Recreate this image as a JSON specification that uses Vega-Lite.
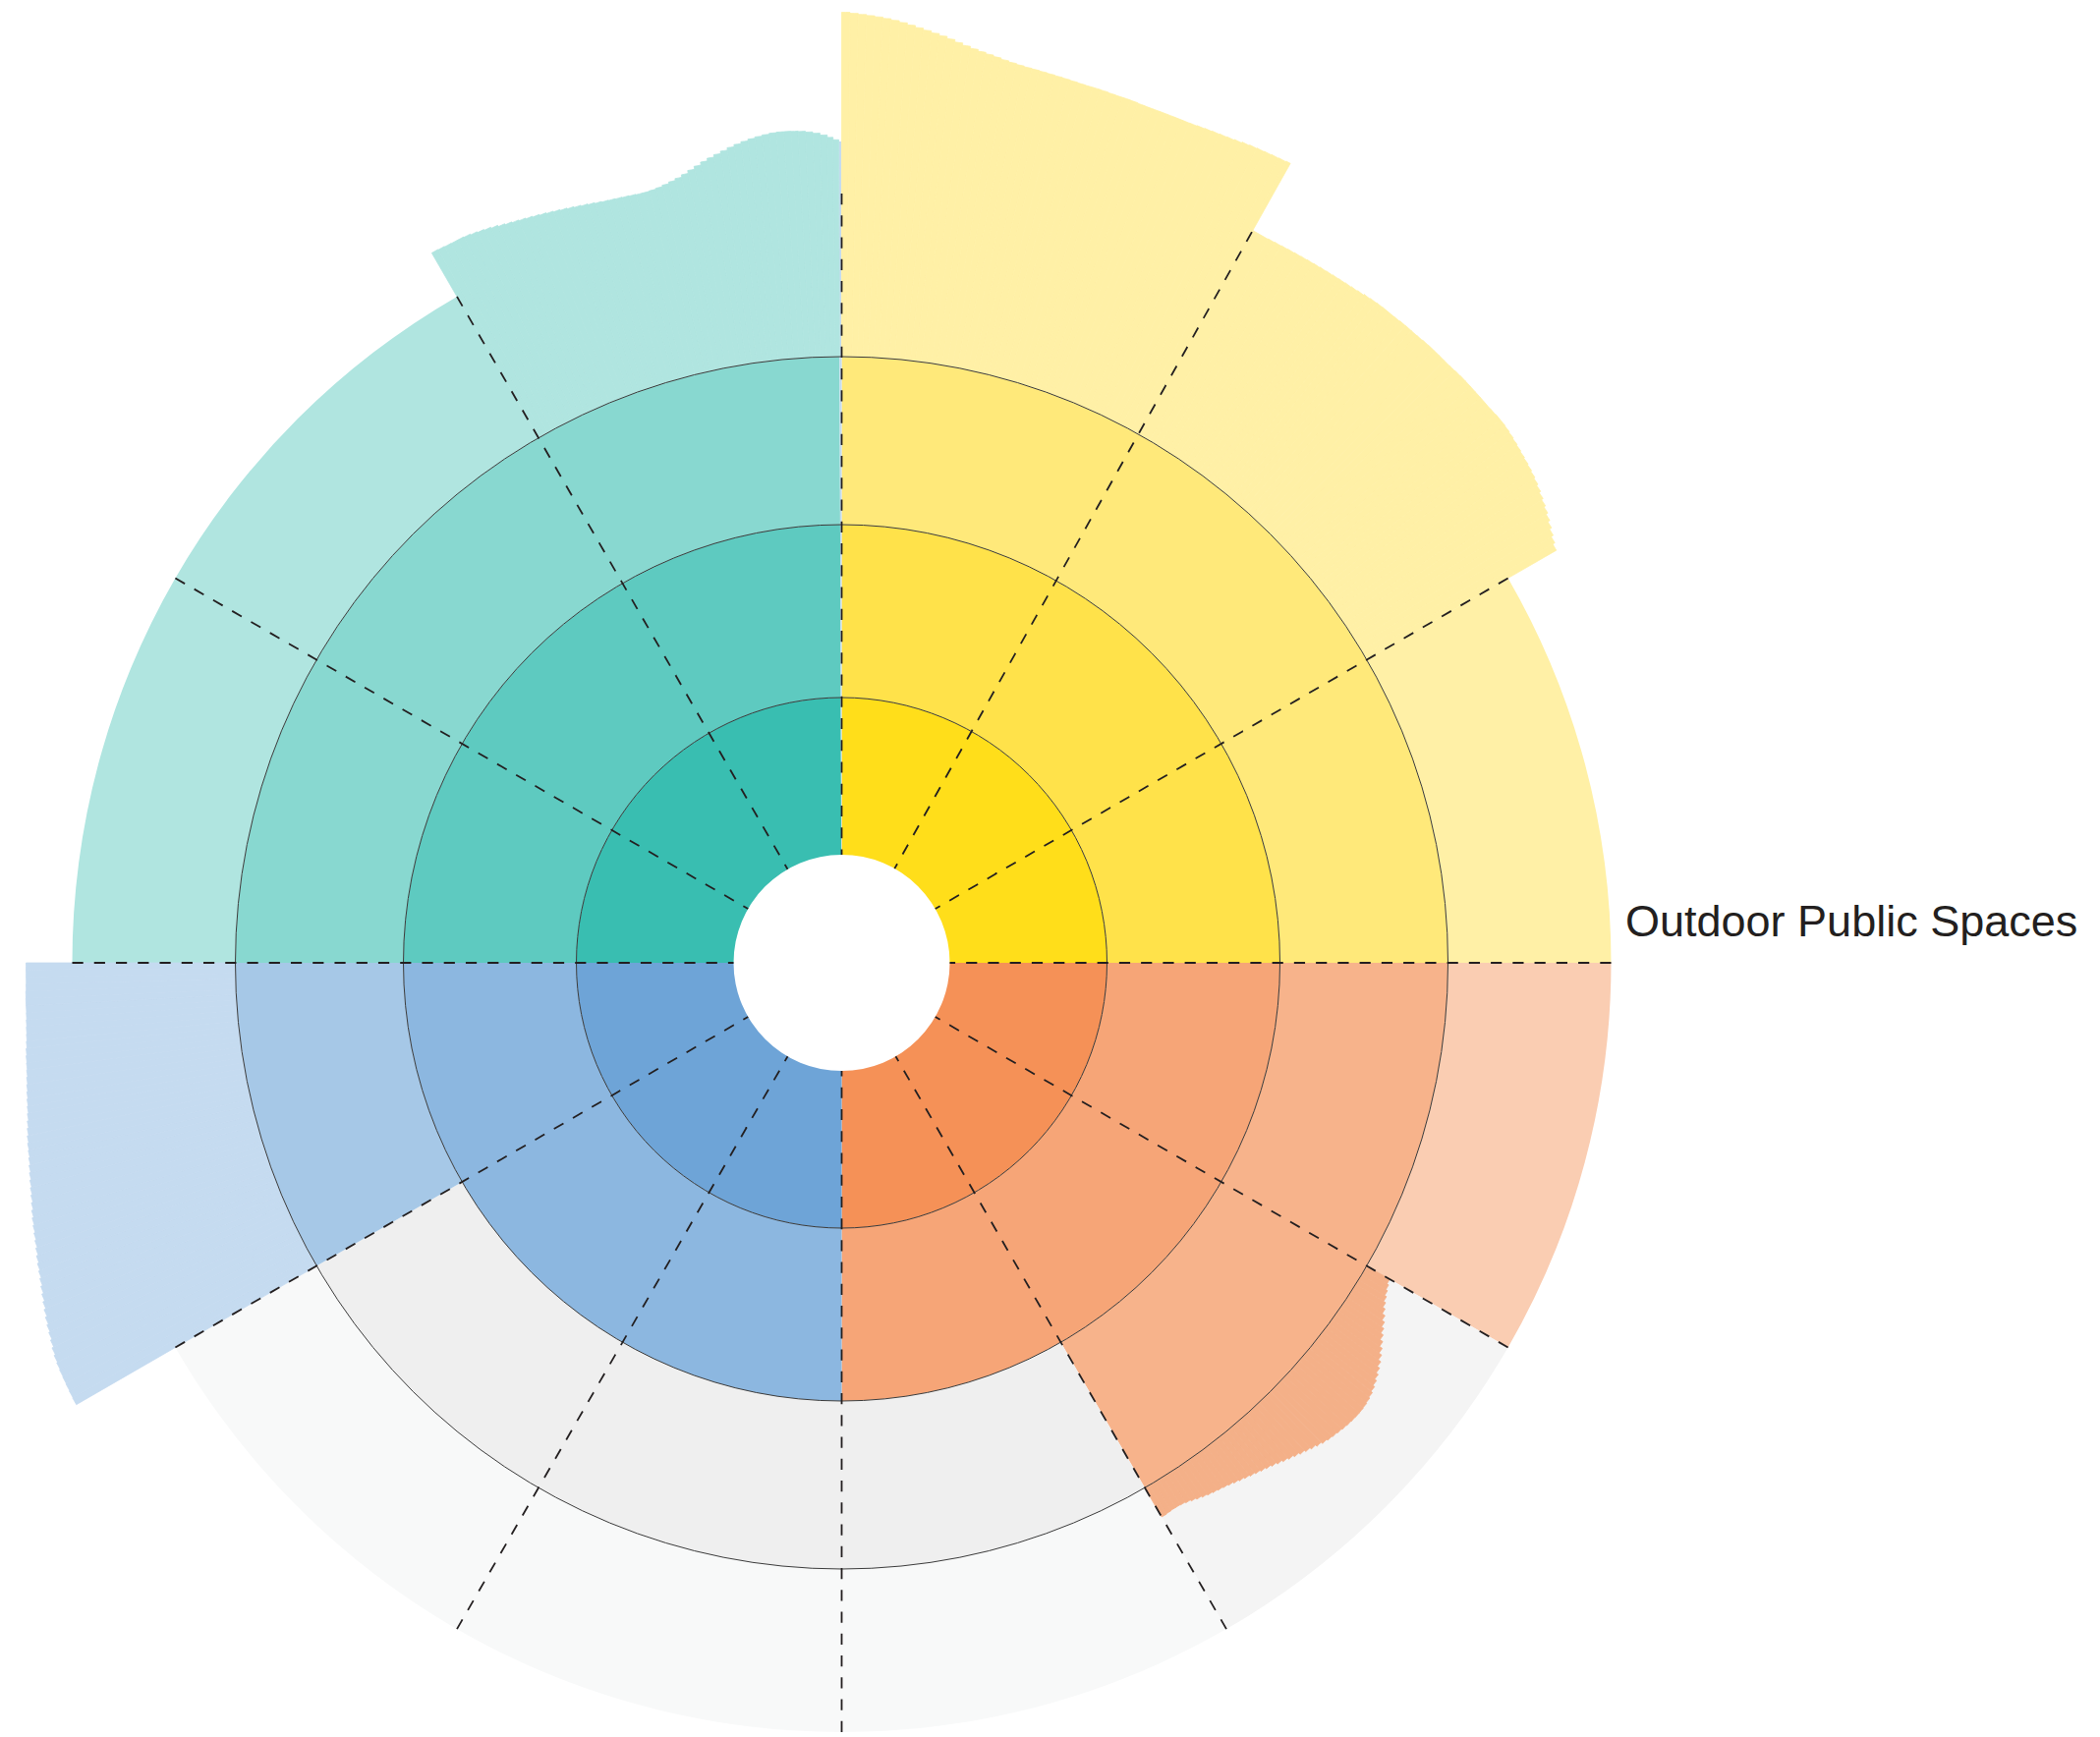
{
  "$schema": "https://vega.github.io/schema/vega-lite/v6.json",
  "width": 1713,
  "height": 1576,
  "autosize": {"type": "none"},
  "padding": {"left": 0, "top": 192, "right": 424, "bottom": 0},
  "background": "white",
  "config": {"view": {"stroke": null}},
  "datasets": {
    "segs": [
      {"key": "A1", "t0": 0, "t1": 90, "r0": 110, "r1": 270},
      {"key": "A2", "t0": 0, "t1": 90, "r0": 270, "r1": 446},
      {"key": "A3", "t0": 0, "t1": 90, "r0": 446, "r1": 617},
      {"key": "A4", "t0": 60, "t1": 90, "r0": 617, "r1": 783},
      {"key": "B1", "t0": 90, "t1": 180, "r0": 110, "r1": 270},
      {"key": "B2", "t0": 90, "t1": 180, "r0": 270, "r1": 446},
      {"key": "B3", "t0": 90, "t1": 150, "r0": 446, "r1": 617},
      {"key": "B4", "t0": 90, "t1": 120, "r0": 617, "r1": 783},
      {"key": "E4b", "t0": 120, "t1": 150, "r0": 617, "r1": 783},
      {"key": "E3", "t0": 150, "t1": 240, "r0": 446, "r1": 617},
      {"key": "E4", "t0": 150, "t1": 240, "r0": 617, "r1": 783},
      {"key": "C1", "t0": 180, "t1": 270, "r0": 110, "r1": 270},
      {"key": "C2", "t0": 180, "t1": 270, "r0": 270, "r1": 446},
      {"key": "C3", "t0": 240, "t1": 270, "r0": 446, "r1": 617},
      {"key": "D1", "t0": 270, "t1": 359.8, "r0": 110, "r1": 270},
      {"key": "D2", "t0": 270, "t1": 359.8, "r0": 270, "r1": 446},
      {"key": "D3", "t0": 270, "t1": 359.8, "r0": 446, "r1": 617},
      {"key": "D4", "t0": 270, "t1": 330, "r0": 617, "r1": 783},
      {"key": "C4", "t0": 359.8, "t1": 360, "r0": 110, "r1": 836}
    ],
    "waves": [
      {"key":"A4","t0":0,"t1":0.5,"r0":617,"r1":967.5},{"key":"A4","t0":0.5,"t1":1,"r0":617,"r1":966.5},
      {"key":"A4","t0":1,"t1":1.5,"r0":617,"r1":965.5},{"key":"A4","t0":1.5,"t1":2,"r0":617,"r1":964.5},
      {"key":"A4","t0":2,"t1":2.5,"r0":617,"r1":963.5},{"key":"A4","t0":2.5,"t1":3,"r0":617,"r1":962.25},
      {"key":"A4","t0":3,"t1":3.5,"r0":617,"r1":960.75},{"key":"A4","t0":3.5,"t1":4,"r0":617,"r1":959},
      {"key":"A4","t0":4,"t1":4.5,"r0":617,"r1":957},{"key":"A4","t0":4.5,"t1":5,"r0":617,"r1":955},
      {"key":"A4","t0":5,"t1":5.5,"r0":617,"r1":953},{"key":"A4","t0":5.5,"t1":6,"r0":617,"r1":951},
      {"key":"A4","t0":6,"t1":6.5,"r0":617,"r1":949},{"key":"A4","t0":6.5,"t1":7,"r0":617,"r1":946.75},
      {"key":"A4","t0":7,"t1":7.5,"r0":617,"r1":944.25},{"key":"A4","t0":7.5,"t1":8,"r0":617,"r1":942},
      {"key":"A4","t0":8,"t1":8.5,"r0":617,"r1":940},{"key":"A4","t0":8.5,"t1":9,"r0":617,"r1":938.25},
      {"key":"A4","t0":9,"t1":9.5,"r0":617,"r1":936.75},{"key":"A4","t0":9.5,"t1":10,"r0":617,"r1":935.25},
      {"key":"A4","t0":10,"t1":10.5,"r0":617,"r1":933.75},{"key":"A4","t0":10.5,"t1":11,"r0":617,"r1":932.5},
      {"key":"A4","t0":11,"t1":11.5,"r0":617,"r1":931.5},{"key":"A4","t0":11.5,"t1":12,"r0":617,"r1":930.75},
      {"key":"A4","t0":12,"t1":12.5,"r0":617,"r1":930.25},{"key":"A4","t0":12.5,"t1":13,"r0":617,"r1":929.75},
      {"key":"A4","t0":13,"t1":13.5,"r0":617,"r1":929.25},{"key":"A4","t0":13.5,"t1":14,"r0":617,"r1":928.75},
      {"key":"A4","t0":14,"t1":14.5,"r0":617,"r1":928.25},{"key":"A4","t0":14.5,"t1":15,"r0":617,"r1":927.75},
      {"key":"A4","t0":15,"t1":15.5,"r0":617,"r1":927.25},{"key":"A4","t0":15.5,"t1":16,"r0":617,"r1":927},
      {"key":"A4","t0":16,"t1":16.5,"r0":617,"r1":927},{"key":"A4","t0":16.5,"t1":17,"r0":617,"r1":926.75},
      {"key":"A4","t0":17,"t1":17.5,"r0":617,"r1":926.25},{"key":"A4","t0":17.5,"t1":18,"r0":617,"r1":926},
      {"key":"A4","t0":18,"t1":18.5,"r0":617,"r1":926},{"key":"A4","t0":18.5,"t1":19,"r0":617,"r1":925.75},
      {"key":"A4","t0":19,"t1":19.5,"r0":617,"r1":925.25},{"key":"A4","t0":19.5,"t1":20,"r0":617,"r1":925},
      {"key":"A4","t0":20,"t1":20.5,"r0":617,"r1":925},{"key":"A4","t0":20.5,"t1":21,"r0":617,"r1":925},
      {"key":"A4","t0":21,"t1":21.5,"r0":617,"r1":925},{"key":"A4","t0":21.5,"t1":22,"r0":617,"r1":925},
      {"key":"A4","t0":22,"t1":22.5,"r0":617,"r1":925},{"key":"A4","t0":22.5,"t1":23,"r0":617,"r1":925.25},
      {"key":"A4","t0":23,"t1":23.5,"r0":617,"r1":925.75},{"key":"A4","t0":23.5,"t1":24,"r0":617,"r1":926.25},
      {"key":"A4","t0":24,"t1":24.5,"r0":617,"r1":926.75},{"key":"A4","t0":24.5,"t1":25,"r0":617,"r1":927.25},
      {"key":"A4","t0":25,"t1":25.5,"r0":617,"r1":927.75},{"key":"A4","t0":25.5,"t1":26,"r0":617,"r1":928.5},
      {"key":"A4","t0":26,"t1":26.5,"r0":617,"r1":929.5},{"key":"A4","t0":26.5,"t1":27,"r0":617,"r1":930.25},
      {"key":"A4","t0":27,"t1":27.5,"r0":617,"r1":930.75},{"key":"A4","t0":27.5,"t1":28,"r0":617,"r1":931.25},
      {"key":"A4","t0":28,"t1":28.5,"r0":617,"r1":931.75},{"key":"A4","t0":28.5,"t1":29,"r0":617,"r1":932.25},
      {"key":"A4","t0":29,"t1":29.3,"r0":617,"r1":933},
      {"key":"A4","t0":29.3,"t1":30.5,"r0":617,"r1":854.75},{"key":"A4","t0":30.5,"t1":31,"r0":617,"r1":855.25},
      {"key":"A4","t0":31,"t1":31.5,"r0":617,"r1":855.75},{"key":"A4","t0":31.5,"t1":32,"r0":617,"r1":856.25},
      {"key":"A4","t0":32,"t1":32.5,"r0":617,"r1":856.75},{"key":"A4","t0":32.5,"t1":33,"r0":617,"r1":857.25},
      {"key":"A4","t0":33,"t1":33.5,"r0":617,"r1":857.75},{"key":"A4","t0":33.5,"t1":34,"r0":617,"r1":858.25},
      {"key":"A4","t0":34,"t1":34.5,"r0":617,"r1":858.75},{"key":"A4","t0":34.5,"t1":35,"r0":617,"r1":859.25},
      {"key":"A4","t0":35,"t1":35.5,"r0":617,"r1":859.75},{"key":"A4","t0":35.5,"t1":36,"r0":617,"r1":860.25},
      {"key":"A4","t0":36,"t1":36.5,"r0":617,"r1":860.75},{"key":"A4","t0":36.5,"t1":37,"r0":617,"r1":861.25},
      {"key":"A4","t0":37,"t1":37.5,"r0":617,"r1":861.75},{"key":"A4","t0":37.5,"t1":38,"r0":617,"r1":862.5},
      {"key":"A4","t0":38,"t1":38.5,"r0":617,"r1":863.5},{"key":"A4","t0":38.5,"t1":39,"r0":617,"r1":864.25},
      {"key":"A4","t0":39,"t1":39.5,"r0":617,"r1":864.75},{"key":"A4","t0":39.5,"t1":40,"r0":617,"r1":865},
      {"key":"A4","t0":40,"t1":40.5,"r0":617,"r1":865},{"key":"A4","t0":40.5,"t1":41,"r0":617,"r1":865.25},
      {"key":"A4","t0":41,"t1":41.5,"r0":617,"r1":865.75},{"key":"A4","t0":41.5,"t1":42,"r0":617,"r1":866},
      {"key":"A4","t0":42,"t1":42.5,"r0":617,"r1":866},{"key":"A4","t0":42.5,"t1":43,"r0":617,"r1":866.25},
      {"key":"A4","t0":43,"t1":43.5,"r0":617,"r1":866.75},{"key":"A4","t0":43.5,"t1":44,"r0":617,"r1":867},
      {"key":"A4","t0":44,"t1":44.5,"r0":617,"r1":867},{"key":"A4","t0":44.5,"t1":45,"r0":617,"r1":867},
      {"key":"A4","t0":45,"t1":45.5,"r0":617,"r1":867},{"key":"A4","t0":45.5,"t1":46,"r0":617,"r1":867.25},
      {"key":"A4","t0":46,"t1":46.5,"r0":617,"r1":867.75},{"key":"A4","t0":46.5,"t1":47,"r0":617,"r1":868},
      {"key":"A4","t0":47,"t1":47.5,"r0":617,"r1":868},{"key":"A4","t0":47.5,"t1":48,"r0":617,"r1":868},
      {"key":"A4","t0":48,"t1":48.5,"r0":617,"r1":868},{"key":"A4","t0":48.5,"t1":49,"r0":617,"r1":868},
      {"key":"A4","t0":49,"t1":49.5,"r0":617,"r1":868},{"key":"A4","t0":49.5,"t1":50,"r0":617,"r1":868.25},
      {"key":"A4","t0":50,"t1":50.5,"r0":617,"r1":868.75},{"key":"A4","t0":50.5,"t1":51,"r0":617,"r1":868.75},
      {"key":"A4","t0":51,"t1":51.5,"r0":617,"r1":868.25},{"key":"A4","t0":51.5,"t1":52,"r0":617,"r1":867.5},
      {"key":"A4","t0":52,"t1":52.5,"r0":617,"r1":866.5},{"key":"A4","t0":52.5,"t1":53,"r0":617,"r1":865.5},
      {"key":"A4","t0":53,"t1":53.5,"r0":617,"r1":864.5},{"key":"A4","t0":53.5,"t1":54,"r0":617,"r1":863.5},
      {"key":"A4","t0":54,"t1":54.5,"r0":617,"r1":862.5},{"key":"A4","t0":54.5,"t1":55,"r0":617,"r1":861.25},
      {"key":"A4","t0":55,"t1":55.5,"r0":617,"r1":859.75},{"key":"A4","t0":55.5,"t1":56,"r0":617,"r1":858},
      {"key":"A4","t0":56,"t1":56.5,"r0":617,"r1":856},{"key":"A4","t0":56.5,"t1":57,"r0":617,"r1":854},
      {"key":"A4","t0":57,"t1":57.5,"r0":617,"r1":852},{"key":"A4","t0":57.5,"t1":58,"r0":617,"r1":849.75},
      {"key":"A4","t0":58,"t1":58.5,"r0":617,"r1":847.25},{"key":"A4","t0":58.5,"t1":59,"r0":617,"r1":844.75},
      {"key":"A4","t0":59,"t1":59.5,"r0":617,"r1":842.25},{"key":"A4","t0":59.5,"t1":60,"r0":617,"r1":839.75},
      {"key":"Bx","t0":120,"t1":120.5,"r0":617,"r1":644},{"key":"Bx","t0":120.5,"t1":121,"r0":617,"r1":646},
      {"key":"Bx","t0":121,"t1":121.5,"r0":617,"r1":648},{"key":"Bx","t0":121.5,"t1":122,"r0":617,"r1":650.25},
      {"key":"Bx","t0":122,"t1":122.5,"r0":617,"r1":652.75},{"key":"Bx","t0":122.5,"t1":123,"r0":617,"r1":655.75},
      {"key":"Bx","t0":123,"t1":123.5,"r0":617,"r1":659.25},{"key":"Bx","t0":123.5,"t1":124,"r0":617,"r1":662.5},
      {"key":"Bx","t0":124,"t1":124.5,"r0":617,"r1":665.5},{"key":"Bx","t0":124.5,"t1":125,"r0":617,"r1":668.75},
      {"key":"Bx","t0":125,"t1":125.5,"r0":617,"r1":672.25},{"key":"Bx","t0":125.5,"t1":126,"r0":617,"r1":675.75},
      {"key":"Bx","t0":126,"t1":126.5,"r0":617,"r1":679.25},{"key":"Bx","t0":126.5,"t1":127,"r0":617,"r1":682.5},
      {"key":"Bx","t0":127,"t1":127.5,"r0":617,"r1":685.5},{"key":"Bx","t0":127.5,"t1":128,"r0":617,"r1":688.25},
      {"key":"Bx","t0":128,"t1":128.5,"r0":617,"r1":690.75},{"key":"Bx","t0":128.5,"t1":129,"r0":617,"r1":693},
      {"key":"Bx","t0":129,"t1":129.5,"r0":617,"r1":695},{"key":"Bx","t0":129.5,"t1":130,"r0":617,"r1":696.5},
      {"key":"Bx","t0":130,"t1":130.5,"r0":617,"r1":697.5},{"key":"Bx","t0":130.5,"t1":131,"r0":617,"r1":698},
      {"key":"Bx","t0":131,"t1":131.5,"r0":617,"r1":698},{"key":"Bx","t0":131.5,"t1":132,"r0":617,"r1":697.75},
      {"key":"Bx","t0":132,"t1":132.5,"r0":617,"r1":697.25},{"key":"Bx","t0":132.5,"t1":133,"r0":617,"r1":696.5},
      {"key":"Bx","t0":133,"t1":133.5,"r0":617,"r1":695.5},{"key":"Bx","t0":133.5,"t1":134,"r0":617,"r1":694.5},
      {"key":"Bx","t0":134,"t1":134.5,"r0":617,"r1":693.5},{"key":"Bx","t0":134.5,"t1":135,"r0":617,"r1":692},
      {"key":"Bx","t0":135,"t1":135.5,"r0":617,"r1":690},{"key":"Bx","t0":135.5,"t1":136,"r0":617,"r1":688},
      {"key":"Bx","t0":136,"t1":136.5,"r0":617,"r1":686},{"key":"Bx","t0":136.5,"t1":137,"r0":617,"r1":684},
      {"key":"Bx","t0":137,"t1":137.5,"r0":617,"r1":682},{"key":"Bx","t0":137.5,"t1":138,"r0":617,"r1":680},
      {"key":"Bx","t0":138,"t1":138.5,"r0":617,"r1":678},{"key":"Bx","t0":138.5,"t1":139,"r0":617,"r1":676},
      {"key":"Bx","t0":139,"t1":139.5,"r0":617,"r1":674},{"key":"Bx","t0":139.5,"t1":140,"r0":617,"r1":672.25},
      {"key":"Bx","t0":140,"t1":140.5,"r0":617,"r1":670.75},{"key":"Bx","t0":140.5,"t1":141,"r0":617,"r1":669.25},
      {"key":"Bx","t0":141,"t1":141.5,"r0":617,"r1":667.75},{"key":"Bx","t0":141.5,"t1":142,"r0":617,"r1":666.25},
      {"key":"Bx","t0":142,"t1":142.5,"r0":617,"r1":664.75},{"key":"Bx","t0":142.5,"t1":143,"r0":617,"r1":663.25},
      {"key":"Bx","t0":143,"t1":143.5,"r0":617,"r1":661.75},{"key":"Bx","t0":143.5,"t1":144,"r0":617,"r1":660.5},
      {"key":"Bx","t0":144,"t1":144.5,"r0":617,"r1":659.5},{"key":"Bx","t0":144.5,"t1":145,"r0":617,"r1":658.5},
      {"key":"Bx","t0":145,"t1":145.5,"r0":617,"r1":657.5},{"key":"Bx","t0":145.5,"t1":146,"r0":617,"r1":656.25},
      {"key":"Bx","t0":146,"t1":146.5,"r0":617,"r1":654.75},{"key":"Bx","t0":146.5,"t1":147,"r0":617,"r1":653.25},
      {"key":"Bx","t0":147,"t1":147.5,"r0":617,"r1":651.75},{"key":"Bx","t0":147.5,"t1":148,"r0":617,"r1":650.75},
      {"key":"Bx","t0":148,"t1":148.5,"r0":617,"r1":650.25},{"key":"Bx","t0":148.5,"t1":149,"r0":617,"r1":650.25},
      {"key":"Bx","t0":149,"t1":149.5,"r0":617,"r1":650.75},{"key":"Bx","t0":149.5,"t1":150,"r0":617,"r1":651.25},
      {"key":"C4","t0":240,"t1":240.5,"r0":617,"r1":899.25},{"key":"C4","t0":240.5,"t1":241,"r0":617,"r1":898.75},
      {"key":"C4","t0":241,"t1":241.5,"r0":617,"r1":898.25},{"key":"C4","t0":241.5,"t1":242,"r0":617,"r1":897.75},
      {"key":"C4","t0":242,"t1":242.5,"r0":617,"r1":897.25},{"key":"C4","t0":242.5,"t1":243,"r0":617,"r1":896.5},
      {"key":"C4","t0":243,"t1":243.5,"r0":617,"r1":895.5},{"key":"C4","t0":243.5,"t1":244,"r0":617,"r1":894},
      {"key":"C4","t0":244,"t1":244.5,"r0":617,"r1":892},{"key":"C4","t0":244.5,"t1":245,"r0":617,"r1":890.25},
      {"key":"C4","t0":245,"t1":245.5,"r0":617,"r1":888.75},{"key":"C4","t0":245.5,"t1":246,"r0":617,"r1":887},
      {"key":"C4","t0":246,"t1":246.5,"r0":617,"r1":885},{"key":"C4","t0":246.5,"t1":247,"r0":617,"r1":883},
      {"key":"C4","t0":247,"t1":247.5,"r0":617,"r1":881},{"key":"C4","t0":247.5,"t1":248,"r0":617,"r1":879},
      {"key":"C4","t0":248,"t1":248.5,"r0":617,"r1":877},{"key":"C4","t0":248.5,"t1":249,"r0":617,"r1":875.25},
      {"key":"C4","t0":249,"t1":249.5,"r0":617,"r1":873.75},{"key":"C4","t0":249.5,"t1":250,"r0":617,"r1":872},
      {"key":"C4","t0":250,"t1":250.5,"r0":617,"r1":870},{"key":"C4","t0":250.5,"t1":251,"r0":617,"r1":868.25},
      {"key":"C4","t0":251,"t1":251.5,"r0":617,"r1":866.75},{"key":"C4","t0":251.5,"t1":252,"r0":617,"r1":865.25},
      {"key":"C4","t0":252,"t1":252.5,"r0":617,"r1":863.75},{"key":"C4","t0":252.5,"t1":253,"r0":617,"r1":862},
      {"key":"C4","t0":253,"t1":253.5,"r0":617,"r1":860},{"key":"C4","t0":253.5,"t1":254,"r0":617,"r1":858.25},
      {"key":"C4","t0":254,"t1":254.5,"r0":617,"r1":856.75},{"key":"C4","t0":254.5,"t1":255,"r0":617,"r1":855.25},
      {"key":"C4","t0":255,"t1":255.5,"r0":617,"r1":853.75},{"key":"C4","t0":255.5,"t1":256,"r0":617,"r1":852.25},
      {"key":"C4","t0":256,"t1":256.5,"r0":617,"r1":850.75},{"key":"C4","t0":256.5,"t1":257,"r0":617,"r1":849.5},
      {"key":"C4","t0":257,"t1":257.5,"r0":617,"r1":848.5},{"key":"C4","t0":257.5,"t1":258,"r0":617,"r1":847.25},
      {"key":"C4","t0":258,"t1":258.5,"r0":617,"r1":845.75},{"key":"C4","t0":258.5,"t1":259,"r0":617,"r1":844.25},
      {"key":"C4","t0":259,"t1":259.5,"r0":617,"r1":842.75},{"key":"C4","t0":259.5,"t1":260,"r0":617,"r1":841.5},
      {"key":"C4","t0":260,"t1":260.5,"r0":617,"r1":840.5},{"key":"C4","t0":260.5,"t1":261,"r0":617,"r1":839.5},
      {"key":"C4","t0":261,"t1":261.5,"r0":617,"r1":838.5},{"key":"C4","t0":261.5,"t1":262,"r0":617,"r1":837.5},
      {"key":"C4","t0":262,"t1":262.5,"r0":617,"r1":836.5},{"key":"C4","t0":262.5,"t1":263,"r0":617,"r1":835.75},
      {"key":"C4","t0":263,"t1":263.5,"r0":617,"r1":835.25},{"key":"C4","t0":263.5,"t1":264,"r0":617,"r1":834.5},
      {"key":"C4","t0":264,"t1":264.5,"r0":617,"r1":833.5},{"key":"C4","t0":264.5,"t1":265,"r0":617,"r1":832.75},
      {"key":"C4","t0":265,"t1":265.5,"r0":617,"r1":832.25},{"key":"C4","t0":265.5,"t1":266,"r0":617,"r1":831.75},
      {"key":"C4","t0":266,"t1":266.5,"r0":617,"r1":831.25},{"key":"C4","t0":266.5,"t1":267,"r0":617,"r1":831},
      {"key":"C4","t0":267,"t1":267.5,"r0":617,"r1":831},{"key":"C4","t0":267.5,"t1":268,"r0":617,"r1":830.75},
      {"key":"C4","t0":268,"t1":268.5,"r0":617,"r1":830.25},{"key":"C4","t0":268.5,"t1":269,"r0":617,"r1":830},
      {"key":"C4","t0":269,"t1":269.5,"r0":617,"r1":830},{"key":"C4","t0":269.5,"t1":270,"r0":617,"r1":830},
      {"key":"D4","t0":330,"t1":330.5,"r0":617,"r1":834.25},{"key":"D4","t0":330.5,"t1":331,"r0":617,"r1":833.75},
      {"key":"D4","t0":331,"t1":331.5,"r0":617,"r1":833.25},{"key":"D4","t0":331.5,"t1":332,"r0":617,"r1":833},
      {"key":"D4","t0":332,"t1":332.5,"r0":617,"r1":833},{"key":"D4","t0":332.5,"t1":333,"r0":617,"r1":832.5},
      {"key":"D4","t0":333,"t1":333.5,"r0":617,"r1":831.5},{"key":"D4","t0":333.5,"t1":334,"r0":617,"r1":830.5},
      {"key":"D4","t0":334,"t1":334.5,"r0":617,"r1":829.5},{"key":"D4","t0":334.5,"t1":335,"r0":617,"r1":828.25},
      {"key":"D4","t0":335,"t1":335.5,"r0":617,"r1":826.75},{"key":"D4","t0":335.5,"t1":336,"r0":617,"r1":825.5},
      {"key":"D4","t0":336,"t1":336.5,"r0":617,"r1":824.5},{"key":"D4","t0":336.5,"t1":337,"r0":617,"r1":823.5},
      {"key":"D4","t0":337,"t1":337.5,"r0":617,"r1":822.5},{"key":"D4","t0":337.5,"t1":338,"r0":617,"r1":821.5},
      {"key":"D4","t0":338,"t1":338.5,"r0":617,"r1":820.5},{"key":"D4","t0":338.5,"t1":339,"r0":617,"r1":819.5},
      {"key":"D4","t0":339,"t1":339.5,"r0":617,"r1":818.5},{"key":"D4","t0":339.5,"t1":340,"r0":617,"r1":817.5},
      {"key":"D4","t0":340,"t1":340.5,"r0":617,"r1":816.5},{"key":"D4","t0":340.5,"t1":341,"r0":617,"r1":815.5},
      {"key":"D4","t0":341,"t1":341.5,"r0":617,"r1":814.5},{"key":"D4","t0":341.5,"t1":342,"r0":617,"r1":813.5},
      {"key":"D4","t0":342,"t1":342.5,"r0":617,"r1":812.5},{"key":"D4","t0":342.5,"t1":343,"r0":617,"r1":811.75},
      {"key":"D4","t0":343,"t1":343.5,"r0":617,"r1":811.25},{"key":"D4","t0":343.5,"t1":344,"r0":617,"r1":810.75},
      {"key":"D4","t0":344,"t1":344.5,"r0":617,"r1":810.25},{"key":"D4","t0":344.5,"t1":345,"r0":617,"r1":809.75},
      {"key":"D4","t0":345,"t1":345.5,"r0":617,"r1":809.25},{"key":"D4","t0":345.5,"t1":346,"r0":617,"r1":809.25},
      {"key":"D4","t0":346,"t1":346.5,"r0":617,"r1":809.75},{"key":"D4","t0":346.5,"t1":347,"r0":617,"r1":810.75},
      {"key":"D4","t0":347,"t1":347.5,"r0":617,"r1":812.25},{"key":"D4","t0":347.5,"t1":348,"r0":617,"r1":814},
      {"key":"D4","t0":348,"t1":348.5,"r0":617,"r1":816},{"key":"D4","t0":348.5,"t1":349,"r0":617,"r1":818.5},
      {"key":"D4","t0":349,"t1":349.5,"r0":617,"r1":821.5},{"key":"D4","t0":349.5,"t1":350,"r0":617,"r1":824.5},
      {"key":"D4","t0":350,"t1":350.5,"r0":617,"r1":827.5},{"key":"D4","t0":350.5,"t1":351,"r0":617,"r1":830.25},
      {"key":"D4","t0":351,"t1":351.5,"r0":617,"r1":832.75},{"key":"D4","t0":351.5,"t1":352,"r0":617,"r1":835.25},
      {"key":"D4","t0":352,"t1":352.5,"r0":617,"r1":837.75},{"key":"D4","t0":352.5,"t1":353,"r0":617,"r1":840},
      {"key":"D4","t0":353,"t1":353.5,"r0":617,"r1":842},{"key":"D4","t0":353.5,"t1":354,"r0":617,"r1":843.75},
      {"key":"D4","t0":354,"t1":354.5,"r0":617,"r1":845.25},{"key":"D4","t0":354.5,"t1":355,"r0":617,"r1":846.5},
      {"key":"D4","t0":355,"t1":355.5,"r0":617,"r1":847.5},{"key":"D4","t0":355.5,"t1":356,"r0":617,"r1":848},
      {"key":"D4","t0":356,"t1":356.5,"r0":617,"r1":848},{"key":"D4","t0":356.5,"t1":357,"r0":617,"r1":847.75},
      {"key":"D4","t0":357,"t1":357.5,"r0":617,"r1":847.25},{"key":"D4","t0":357.5,"t1":358,"r0":617,"r1":846.25},
      {"key":"D4","t0":358,"t1":358.5,"r0":617,"r1":844.75},{"key":"D4","t0":358.5,"t1":359,"r0":617,"r1":842.75},
      {"key":"D4","t0":359,"t1":359.4,"r0":617,"r1":840.25},{"key":"D4","t0":359.4,"t1":359.8,"r0":617,"r1":837.75}
    ],
    "circles": [
      {"t0": 0, "t1": 360, "r1": 270},
      {"t0": 0, "t1": 360, "r1": 446},
      {"t0": 0, "t1": 360, "r1": 617}
    ],
    "lines": [
      {"t0": 0, "r0": 110, "r1": 783},
      {"t0": 29.3, "r0": 110, "r1": 853},
      {"t0": 60, "r0": 110, "r1": 783},
      {"t0": 90, "r0": 110, "r1": 783},
      {"t0": 120, "r0": 110, "r1": 783},
      {"t0": 150, "r0": 110, "r1": 783},
      {"t0": 180, "r0": 110, "r1": 783},
      {"t0": 210, "r0": 110, "r1": 783},
      {"t0": 240, "r0": 110, "r1": 783},
      {"t0": 270, "r0": 110, "r1": 783},
      {"t0": 300, "r0": 110, "r1": 783},
      {"t0": 330, "r0": 110, "r1": 783}
    ],
    "labels": [
      {"t0": 90, "r1": 797.5, "label": "Outdoor Public Spaces"}
    ]
  },
  "layer": [
    {
      "data": {"name": "segs"},
      "mark": {"type": "arc"},
      "encoding": {
        "theta": {"field": "t0", "type": "quantitative", "stack": null, "scale": {"type": "linear", "domain": [0, 360], "range": [0, 6.283185307179586]}},
        "theta2": {"field": "t1"},
        "radius": {"field": "r1", "type": "quantitative", "stack": null, "scale": {"type": "linear", "domain": [0, 1000], "range": [0, 1000], "zero": true, "nice": false}},
        "radius2": {"field": "r0"},
        "color": {"field": "key", "type": "nominal", "legend": null,
          "scale": {"domain": ["A1","A2","A3","A4","B1","B2","B3","B4","Bx","C1","C2","C3","C4","D1","D2","D3","D4","E3","E4","E4b"],
                    "range": ["#ffde1a","#ffe24a","#ffe97a","#fff0a6","#f59157","#f6a577","#f7b38b","#facdb2","#f4b088","#6ea4d7","#8cb7e0","#a6c8e7","#c5dbf0","#39beb1","#5ecac0","#88d8d0","#b0e5e0","#efefef","#f8f9f9","#f4f4f4"]}}
      }
    },
    {
      "data": {"name": "waves"},
      "mark": {"type": "arc", "strokeWidth": 0.8},
      "encoding": {
        "theta": {"field": "t0", "type": "quantitative", "stack": null, "scale": {"type": "linear", "domain": [0, 360], "range": [0, 6.283185307179586]}},
        "theta2": {"field": "t1"},
        "radius": {"field": "r1", "type": "quantitative", "stack": null, "scale": {"type": "linear", "domain": [0, 1000], "range": [0, 1000], "zero": true, "nice": false}},
        "radius2": {"field": "r0"},
        "color": {"field": "key", "type": "nominal", "legend": null,
          "scale": {"domain": ["A1","A2","A3","A4","B1","B2","B3","B4","Bx","C1","C2","C3","C4","D1","D2","D3","D4","E3","E4","E4b"],
                    "range": ["#ffde1a","#ffe24a","#ffe97a","#fff0a6","#f59157","#f6a577","#f7b38b","#facdb2","#f4b088","#6ea4d7","#8cb7e0","#a6c8e7","#c5dbf0","#39beb1","#5ecac0","#88d8d0","#b0e5e0","#efefef","#f8f9f9","#f4f4f4"]}},
        "stroke": {"field": "key", "type": "nominal", "legend": null,
          "scale": {"domain": ["A4","Bx","C4","D4"], "range": ["#fff0a6","#f4b088","#c5dbf0","#b0e5e0"]}}
      }
    },
    {
      "data": {"name": "circles"},
      "mark": {"type": "arc", "filled": false, "stroke": "#3a3a3a", "strokeWidth": 1},
      "encoding": {
        "theta": {"field": "t0", "type": "quantitative", "stack": null, "scale": {"type": "linear", "domain": [0, 360], "range": [0, 6.283185307179586]}},
        "theta2": {"field": "t1"},
        "radius": {"field": "r1", "type": "quantitative", "stack": null, "scale": {"type": "linear", "domain": [0, 1000], "range": [0, 1000], "zero": true, "nice": false}}
      }
    },
    {
      "data": {"name": "lines"},
      "transform": [{"filter": "datum.r1 < 800"}],
      "mark": {"type": "arc", "filled": false, "stroke": "#231f20", "strokeWidth": 1.8, "strokeDash": [11.2, 11.0467]},
      "encoding": {
        "theta": {"field": "t0", "type": "quantitative", "stack": null, "scale": {"type": "linear", "domain": [0, 360], "range": [0, 6.283185307179586]}},
        "theta2": {"field": "t0"},
        "radius": {"field": "r1", "type": "quantitative", "stack": null, "scale": {"type": "linear", "domain": [0, 1000], "range": [0, 1000], "zero": true, "nice": false}},
        "radius2": {"field": "r0"}
      }
    },
    {
      "data": {"name": "lines"},
      "transform": [{"filter": "datum.r1 > 800"}],
      "mark": {"type": "arc", "filled": false, "stroke": "#231f20", "strokeWidth": 1.8, "strokeDash": [11.2, 11.1455]},
      "encoding": {
        "theta": {"field": "t0", "type": "quantitative", "stack": null, "scale": {"type": "linear", "domain": [0, 360], "range": [0, 6.283185307179586]}},
        "theta2": {"field": "t0"},
        "radius": {"field": "r1", "type": "quantitative", "stack": null, "scale": {"type": "linear", "domain": [0, 1000], "range": [0, 1000], "zero": true, "nice": false}},
        "radius2": {"field": "r0"}
      }
    },
    {
      "data": {"name": "labels"},
      "mark": {"type": "text", "align": "left", "baseline": "alphabetic", "dy": -27, "fontSize": 45, "font": "Liberation Sans", "color": "#231f20"},
      "encoding": {
        "theta": {"field": "t0", "type": "quantitative", "stack": null, "scale": {"type": "linear", "domain": [0, 360], "range": [0, 6.283185307179586]}},
        "radius": {"field": "r1", "type": "quantitative", "stack": null, "scale": {"type": "linear", "domain": [0, 1000], "range": [0, 1000], "zero": true, "nice": false}},
        "text": {"field": "label"}
      }
    }
  ]
}
